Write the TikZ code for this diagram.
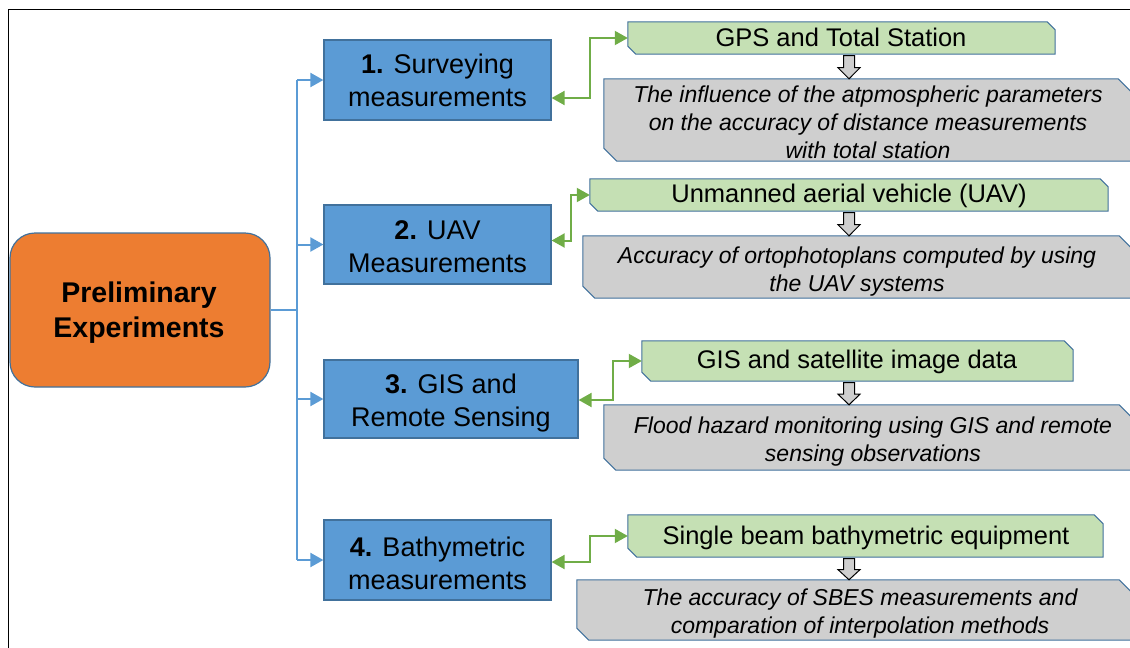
\documentclass[tikz,border=0pt]{standalone}
\usepackage{fontspec}
\setmainfont{Liberation Sans}
\usetikzlibrary{arrows.meta,calc,backgrounds}
\definecolor{bluefill}{HTML}{5B9BD5}
\definecolor{blueline}{HTML}{41719C}
\definecolor{orangefill}{HTML}{ED7D31}
\definecolor{greenfill}{HTML}{C5E0B4}
\definecolor{greenline}{HTML}{70AD47}
\definecolor{grayfill}{HTML}{CFCFCF}
\newcommand{\snipbox}[3]{%
  \path[#3] (#1.north west) -- ($(#1.north east)+(-#2pt,0pt)$) -- ($(#1.north east)+(0pt,-#2pt)$)
    -- (#1.south east) -- ($(#1.south west)+(#2pt,0pt)$) -- ($(#1.south west)+(0pt,#2pt)$) -- cycle;}
\newcommand{\blockarr}[2]{%
  \coordinate (ba) at (ax |- #1.south);
  \coordinate (bb) at (ax |- #2.north);
  \draw[hollowarrow] ($(ba)+(-5.5pt,-1.5pt)$) -- ($(ba)+(5.5pt,-1.5pt)$) -- ($(ba)!0.55!(bb)+(5.5pt,0pt)$)
    -- ($(ba)!0.55!(bb)+(11pt,0pt)$) -- (bb) -- ($(ba)!0.55!(bb)+(-11pt,0pt)$)
    -- ($(ba)!0.55!(bb)+(-5.5pt,0pt)$) -- cycle;}
\tikzset{
  orangebox/.style={rectangle, rounded corners=25pt, fill=orangefill, draw=blueline, line width=1.2pt,
    minimum width=260pt, minimum height=154pt, inner sep=0pt},
  orangetext/.style={inner sep=0pt, align=center, font=\fontsize{28.5}{35}\selectfont\bfseries},
  bluebox/.style={rectangle, fill=bluefill, draw=blueline, line width=1.2pt, inner sep=0pt},
  bluetext/.style={inner sep=0pt, align=center, font=\fontsize{27}{33}\selectfont},
  shapebox/.style={rectangle, inner sep=0pt},
  greentext/.style={inner sep=0pt, align=center, font=\fontsize{25.5}{28}\selectfont},
  graytext/.style={inner sep=0pt, align=center, font=\fontsize{23}{28}\selectfont\itshape},
  greenshape/.style={fill=greenfill, draw=blueline, line width=1pt},
  grayshape/.style={fill=grayfill, draw=blueline, line width=1pt},
  bluearrow/.style={draw=bluefill, line width=2pt, -{Triangle[length=13pt,width=14pt]}},
  greenarrow/.style={draw=greenline, line width=2pt, {Triangle[length=13pt,width=14pt]}-{Triangle[length=13pt,width=14pt]}},
  treeline/.style={draw=bluefill, line width=2pt},
  hollowarrow/.style={fill=grayfill, draw=black, line width=1pt, line join=miter}
}
\begin{document}
\begin{tikzpicture}[x=1pt,y=-1pt]
\useasboundingbox (0,0) rectangle (1130,648);
\clip (0,0) rectangle (1130,648);
% main box
\node[orangebox] (pe) at (140,310) {};
\node[orangetext] (pet) at (139,313) {Preliminary\\Experiments};
% blue boxes
\node[bluebox, minimum width=227pt, minimum height=80pt] (b1) at (437.5,80) {};
\node[bluebox, minimum width=227pt, minimum height=79pt] (b2) at (437.5,244.5) {};
\node[bluebox, minimum width=254pt, minimum height=78pt] (b3) at (451,399) {};
\node[bluebox, minimum width=227pt, minimum height=80pt] (b4) at (437.5,560) {};
\node[bluetext] (b1t) at (437.5,80.5) {\textbf{1.} Surveying\\measurements};
\node[bluetext] (b2t) at (437.5,246.5) {\textbf{2.} UAV\\Measurements};
\node[bluetext] (b3t) at (451,403.5) {\textbf{3.} GIS and\\Remote Sensing};
\node[bluetext] (b4t) at (437.5,563) {\textbf{4.} Bathymetric\\measurements};
% green boxes
\node[shapebox, minimum width=427pt, minimum height=32pt] (g1) at (841.5,38) {};
\node[shapebox, minimum width=518pt, minimum height=32pt] (g2) at (849,195) {};
\node[shapebox, minimum width=431pt, minimum height=40pt] (g3) at (857.5,361) {};
\node[shapebox, minimum width=475pt, minimum height=42pt] (g4) at (865.5,536) {};
\node[greentext] (g1t) at (841,37.5) {GPS and Total Station};
\node[greentext] (g2t) at (849,196) {Unmanned aerial vehicle (UAV)};
\node[greentext] (g3t) at (857,361.5) {GIS and satellite image data};
\node[greentext] (g4t) at (866,538) {Single beam bathymetric equipment};
% gray boxes
\node[shapebox, minimum width=527pt, minimum height=82pt] (r1) at (867.5,120) {};
\node[shapebox, minimum width=548pt, minimum height=62pt] (r2) at (857,267) {};
\node[shapebox, minimum width=527pt, minimum height=65pt] (r3) at (867.5,437.5) {};
\node[shapebox, minimum width=554pt, minimum height=60pt] (r4) at (854,610) {};
\node[graytext] (r1t) at (868,122) {The influence of the atpmospheric parameters\\on the accuracy of distance measurements\\with total station};
\node[graytext] (r2t) at (857,272) {Accuracy of ortophotoplans computed by using\\the UAV systems};
\node[graytext] (r3t) at (873,442) {Flood hazard monitoring using GIS and remote\\sensing observations};
\node[graytext] (r4t) at (860,614) {The accuracy of SBES measurements and\\comparation of interpolation methods};
\begin{scope}[on background layer]
  \clip (0,0) rectangle (1130,648);
  \snipbox{g1}{8}{greenshape}
  \snipbox{g2}{8}{greenshape}
  \snipbox{g3}{9}{greenshape}
  \snipbox{g4}{9}{greenshape}
  \snipbox{r1}{13}{grayshape}
  \snipbox{r2}{12}{grayshape}
  \snipbox{r3}{12}{grayshape}
  \snipbox{r4}{12}{grayshape}
\end{scope}
% blue tree
\coordinate (tr) at (297,0);
\draw[treeline] (pe.east) -- (tr |- pe.east);
\draw[treeline] (tr |- b1.west) -- (tr |- b4.west);
\draw[bluearrow] (tr |- b1.west) -- (b1.west);
\draw[bluearrow] (tr |- b2.west) -- (b2.west);
\draw[bluearrow] (tr |- b3.west) -- (b3.west);
\draw[bluearrow] (tr |- b4.west) -- (b4.west);
% green connectors
\coordinate (p1) at ($(b1.east)+(0,18)$);
\coordinate (m1) at ($(p1)!0.5!(g1.west)$);
\draw[greenarrow] (p1) -- (m1 |- p1) -- (m1 |- g1.west) -- (g1.west);
\coordinate (p2) at ($(b2.east)+(0,-4)$);
\coordinate (m2) at ($(p2)!0.5!(g2.west)$);
\draw[greenarrow] (p2) -- (m2 |- p2) -- (m2 |- g2.west) -- (g2.west);
\coordinate (p3) at ($(b3.east)+(0,1)$);
\coordinate (m3) at ($(p3)!0.55!(g3.west)$);
\draw[greenarrow] (p3) -- (m3 |- p3) -- (m3 |- g3.west) -- (g3.west);
\coordinate (p4) at ($(b4.east)+(0,2)$);
\coordinate (m4) at ($(p4)!0.5!(g4.west)$);
\draw[greenarrow] (p4) -- (m4 |- p4) -- (m4 |- g4.west) -- (g4.west);
% hollow down arrows
\coordinate (ax) at (849,0);
\blockarr{g1}{r1}
\blockarr{g2}{r2}
\blockarr{g3}{r3}
\blockarr{g4}{r4}
% frame
\draw[black, line width=1.5pt] (8.5,648) -- (8.5,9.5) -- (1130,9.5);
\end{tikzpicture}
\end{document}
